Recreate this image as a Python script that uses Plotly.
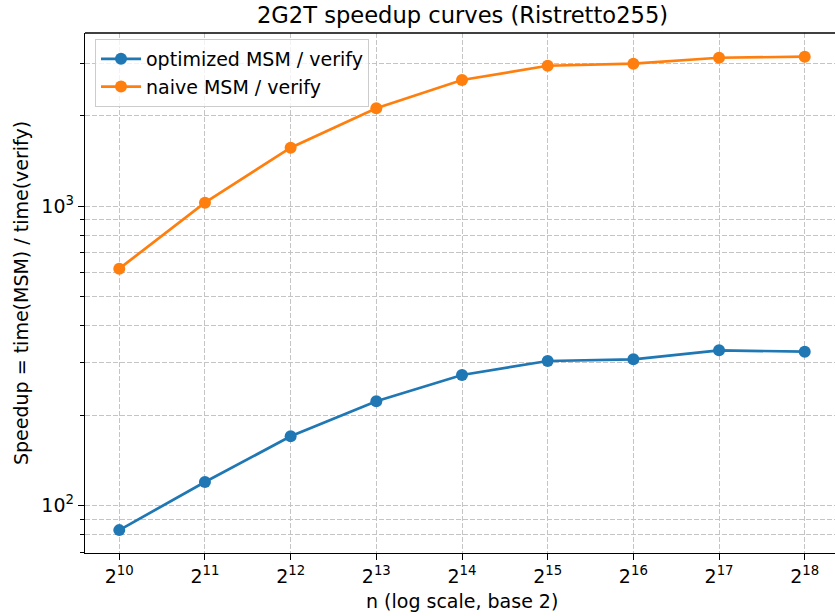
import math
import plotly.graph_objects as go

# ---- data ----
exponents = [10, 11, 12, 13, 14, 15, 16, 17, 18]
n_values = [2 ** k for k in exponents]
optimized_speedup = [82.9, 120, 170.4, 223, 273, 304, 308, 330, 326.5]
naive_speedup = [618, 1026, 1565, 2118, 2633, 2938, 2984, 3124, 3149]
x_tick_labels = [f"2<sup>{k}</sup>" for k in exponents]
y_tick_vals = [100, 1000]
y_tick_labels = ["10<sup>2</sup>", "10<sup>3</sup>"]
y_minor_vals = [70, 80, 90, 200, 300, 400, 500, 600, 700, 800, 900, 2000, 3000]

BLUE = "#1f77b4"
ORANGE = "#ff7f0e"
FONT = "DejaVu Sans"
GRID = "#c4c4c4"

fig = go.Figure()
fig.add_trace(go.Scatter(
    x=n_values, y=optimized_speedup, mode="lines+markers",
    name="optimized MSM / verify",
    line=dict(color=BLUE, width=2.7),
    marker=dict(color=BLUE, size=12),
))
fig.add_trace(go.Scatter(
    x=n_values, y=naive_speedup, mode="lines+markers",
    name="naive MSM / verify",
    line=dict(color=ORANGE, width=2.7),
    marker=dict(color=ORANGE, size=12),
))

l2 = math.log10(2)
# figure is slightly wider than the window so the right spine is cropped, as in the reference
W, H = 839, 616
L, R, T, B = 85, 0, 33, H - 553
PW, PH = W - L - R, H - T - B


def px_x(sx):
    return (sx - L) / PW


def px_y(sy):
    return 1 - (sy - T) / PH


fig.update_layout(
    width=W, height=H,
    margin=dict(l=L, r=R, t=T, b=B, autoexpand=False),
    paper_bgcolor="white", plot_bgcolor="white",
    font=dict(family=FONT, size=19, color="black"),
    title=dict(text="2G2T speedup curves (Ristretto255)", x=462.5 / W, xanchor="center",
               y=1 - 15 / H, yanchor="middle", yref="container",
               font=dict(family=FONT, size=22.6, color="black")),
    showlegend=True,
    legend=dict(x=px_x(95), y=px_y(39), xanchor="left", yanchor="top",
                bgcolor="rgba(255,255,255,0.8)", bordercolor="#cccccc", borderwidth=1,
                font=dict(family=FONT, size=19, color="black"),
                itemwidth=40, tracegroupgap=0),
    xaxis=dict(
        type="log", range=[9.6 * l2, 18.4 * l2], automargin=False,
        tickvals=n_values, ticktext=x_tick_labels,
        tickfont=dict(family=FONT, size=19),
        showline=True, linecolor="black", linewidth=1.4,
        ticks="outside", ticklen=6, tickwidth=1.4, tickcolor="black",
        showgrid=True, gridcolor=GRID, gridwidth=1, griddash="5px,2px",
        zeroline=False,
    ),
    yaxis=dict(
        type="log", range=[1.8422, 3.5773], automargin=False,
        tickvals=y_tick_vals, ticktext=y_tick_labels,
        tickfont=dict(family=FONT, size=19),
        showline=True, linecolor="black", linewidth=1.4,
        ticks="outside", ticklen=6, tickwidth=1.4, tickcolor="black",
        showgrid=True, gridcolor=GRID, gridwidth=1, griddash="5px,2px",
        zeroline=False,
        minor=dict(tickvals=y_minor_vals, ticks="outside", ticklen=3.5,
                   tickwidth=1.1, tickcolor="black",
                   showgrid=True, gridcolor=GRID, gridwidth=1, griddash="5px,2px"),
    ),
    shapes=[dict(type="line", xref="paper", yref="paper", x0=0, x1=1, y0=1, y1=1,
                 line=dict(color="black", width=1.4))],
    annotations=[
        dict(text="n (log scale, base 2)", xref="paper", yref="paper",
             x=px_x(462), y=px_y(601), xanchor="center", yanchor="middle",
             showarrow=False, font=dict(family=FONT, size=19, color="black")),
        dict(text="Speedup = time(MSM) / time(verify)", xref="paper", yref="paper",
             x=px_x(21), y=0.5, xanchor="center", yanchor="middle", textangle=-90,
             showarrow=False, font=dict(family=FONT, size=19, color="black")),
    ],
)

fig.write_html("out.html", config={"displayModeBar": False},
               post_script="document.body.style.margin='0';document.body.style.overflow='hidden';")
